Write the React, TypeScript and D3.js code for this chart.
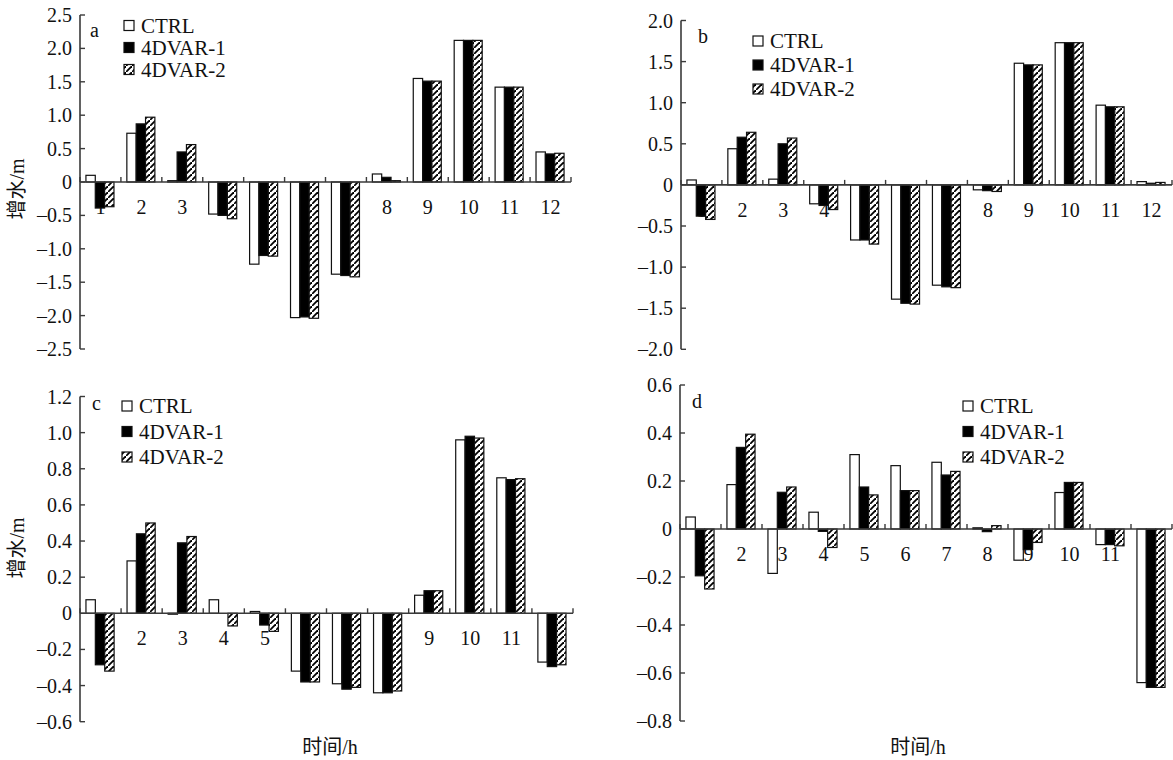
import React from "react";
import * as d3 from "d3";

const hours = ["1", "2", "3", "4", "5", "6", "7", "8", "9", "10", "11", "12"];
const seriesNames = ["CTRL", "4DVAR-1", "4DVAR-2"];

const aCTRL = [0.1, 0.73, 0.02, -0.48, -1.23, -2.03, -1.38, 0.12, 1.55, 2.12, 1.42, 0.45];
const aV1 = [-0.39, 0.87, 0.45, -0.5, -1.1, -2.02, -1.4, 0.07, 1.51, 2.12, 1.42, 0.42];
const aV2 = [-0.37, 0.97, 0.56, -0.55, -1.11, -2.04, -1.42, 0.02, 1.51, 2.12, 1.42, 0.43];

const bCTRL = [0.06, 0.44, 0.07, -0.23, -0.67, -1.39, -1.22, -0.06, 1.48, 1.73, 0.97, 0.04];
const bV1 = [-0.38, 0.58, 0.5, -0.25, -0.67, -1.44, -1.24, -0.07, 1.46, 1.73, 0.95, 0.02];
const bV2 = [-0.42, 0.64, 0.57, -0.3, -0.72, -1.45, -1.25, -0.08, 1.46, 1.73, 0.95, 0.03];

const cCTRL = [0.075, 0.29, -0.005, 0.075, 0.01, -0.32, -0.39, -0.44, 0.1, 0.96, 0.75, -0.27];
const cV1 = [-0.285, 0.44, 0.39, 0.0, -0.065, -0.38, -0.42, -0.44, 0.125, 0.98, 0.74, -0.295];
const cV2 = [-0.32, 0.5, 0.425, -0.07, -0.1, -0.38, -0.41, -0.43, 0.125, 0.97, 0.745, -0.285];

const dCTRL = [0.05, 0.185, -0.185, 0.07, 0.31, 0.264, 0.278, 0.005, -0.13, 0.152, -0.065, -0.64];
const dV1 = [-0.195, 0.34, 0.153, -0.01, 0.175, 0.16, 0.225, -0.011, -0.086, 0.194, -0.065, -0.66];
const dV2 = [-0.25, 0.395, 0.175, -0.077, 0.142, 0.16, 0.24, 0.014, -0.056, 0.194, -0.07, -0.66];

const aTicks = [-2.5, -2.0, -1.5, -1.0, -0.5, 0, 0.5, 1.0, 1.5, 2.0, 2.5];
const bTicks = [-2.0, -1.5, -1.0, -0.5, 0, 0.5, 1.0, 1.5, 2.0];
const cTicks = [-0.6, -0.4, -0.2, 0, 0.2, 0.4, 0.6, 0.8, 1.0, 1.2];
const dTicks = [-0.8, -0.6, -0.4, -0.2, 0, 0.2, 0.4, 0.6];

const yTitle = "增水/m";
const xTitle = "时间/h";

const FONT = "'Liberation Serif', 'Times New Roman', 'Noto Sans CJK SC', serif";
const FS = 20;
const LFS = 21;
const AXIS = "#3a3a3a";

type Panel = {
  id: string;
  letter: string;
  series: number[][];
  ticks: number[];
  x0: number;
  x1: number;
  yTop: number;
  yBot: number;
  letterPos: [number, number];
  legend: [number, number, number];
  yTitlePos?: [number, number];
  xTitlePos?: [number, number];
};

const panels: Panel[] = [
  {
    id: "a", letter: "a", series: [aCTRL, aV1, aV2], ticks: aTicks,
    x0: 80, x1: 571, yTop: 15, yBot: 349,
    letterPos: [90, 37], legend: [124, 25.5, 22],
    yTitlePos: [17, 189],
  },
  {
    id: "b", letter: "b", series: [bCTRL, bV1, bV2], ticks: bTicks,
    x0: 681, x1: 1172, yTop: 20.5, yBot: 349.3,
    letterPos: [698, 43], legend: [753, 41, 24],
  },
  {
    id: "c", letter: "c", series: [cCTRL, cV1, cV2], ticks: cTicks,
    x0: 80, x1: 573, yTop: 396.5, yBot: 721.7,
    letterPos: [92, 410], legend: [122, 406, 25.5],
    yTitlePos: [17, 548], xTitlePos: [330, 747],
  },
  {
    id: "d", letter: "d", series: [dCTRL, dV1, dV2], ticks: dTicks,
    x0: 680, x1: 1172, yTop: 385, yBot: 721,
    letterPos: [692, 408], legend: [963, 406, 25.5],
    xTitlePos: [918, 747],
  },
];

const fmt = (v: number) => {
  if (Math.abs(v) < 1e-9) return "0";
  const s = Math.abs(v).toFixed(1);
  return v < 0 ? "\u2013" + s : s;
};

const fills = ["#ffffff", "#000000", "url(#hatch)"];

function PanelView({ p }: { p: Panel }) {
  const ext = d3.extent(p.ticks) as [number, number];
  const y = d3.scaleLinear().domain(ext).range([p.yBot, p.yTop]);
  const x = d3.scaleBand<string>().domain(hours).range([p.x0, p.x1]).paddingInner(0).paddingOuter(0);
  const bw = x.bandwidth();
  const sub = d3.scaleBand<string>().domain(seriesNames).range([bw * 0.145, bw * 0.83]).padding(0);
  const y0 = y(0);
  const boundaries = hours.map((h) => x(h) as number).concat([p.x1]);

  return (
    <g>
      {hours.map((h) => (
        <text key={"xl" + h} x={(x(h) as number) + bw / 2} y={y0 + 32} textAnchor="middle"
          fontSize={FS} fontFamily={FONT} fill="#111">{h}</text>
      ))}
      {p.series.map((vals, si) =>
        vals.map((v, i) => {
          const bx = (x(hours[i]) as number) + (sub(seriesNames[si]) as number);
          const top = Math.min(y(v), y0);
          const h = Math.abs(y(v) - y0);
          return (
            <rect key={"b" + si + "-" + i} x={bx} y={top} width={sub.bandwidth()} height={h}
              fill={fills[si]} stroke="#111" strokeWidth={1.2} />
          );
        })
      )}
      <line x1={p.x0} x2={p.x0} y1={p.yTop} y2={p.yBot} stroke={AXIS} strokeWidth={1.6} />
      {p.ticks.map((t) => (
        <g key={"yt" + t}>
          <line x1={p.x0} x2={p.x0 + 5} y1={y(t)} y2={y(t)} stroke={AXIS} strokeWidth={1.4} />
          <text x={p.x0 - 8} y={y(t)} textAnchor="end" dominantBaseline="central"
            fontSize={FS} fontFamily={FONT} fill="#111">{fmt(t)}</text>
        </g>
      ))}
      <line x1={p.x0} x2={p.x1} y1={y0} y2={y0} stroke={AXIS} strokeWidth={1.6} />
      {boundaries.map((bx, i) => (
        <line key={"xt" + i} x1={bx} x2={bx} y1={y0} y2={y0 - 5} stroke={AXIS} strokeWidth={1.4} />
      ))}
      <text x={p.letterPos[0]} y={p.letterPos[1]} fontSize={FS} fontFamily={FONT} fill="#111">{p.letter}</text>
      {seriesNames.map((s, si) => {
        const ly = p.legend[1] + si * p.legend[2];
        return (
          <g key={"lg" + s}>
            <rect x={p.legend[0]} y={ly - 5} width={10} height={10} fill={fills[si]} stroke="#111" strokeWidth={1.2} />
            <text x={p.legend[0] + 17} y={ly} dominantBaseline="central" fontSize={LFS} fontFamily={FONT} fill="#111">{s}</text>
          </g>
        );
      })}
      {p.yTitlePos && (
        <text transform={`translate(${p.yTitlePos[0]},${p.yTitlePos[1]}) rotate(-90)`} textAnchor="middle"
          dominantBaseline="central" fontSize={FS} fontFamily={FONT} fill="#111">{yTitle}</text>
      )}
      {p.xTitlePos && (
        <text x={p.xTitlePos[0]} y={p.xTitlePos[1]} textAnchor="middle" dominantBaseline="central"
          fontSize={FS} fontFamily={FONT} fill="#111">{xTitle}</text>
      )}
    </g>
  );
}

export default function App() {
  return (
    <div style={{ position: "absolute", left: 0, top: 0 }}>
      <svg width={1173} height={760} style={{ display: "block", background: "#fff" }}>
        <defs>
          <pattern id="hatch" patternUnits="userSpaceOnUse" width={6} height={6}>
            <rect width={6} height={6} fill="#fff" />
            <path d="M-1.5,7.5 L7.5,-1.5" stroke="#000" strokeWidth={1.8} />
          </pattern>
        </defs>
        {panels.map((p) => (
          <PanelView key={p.id} p={p} />
        ))}
      </svg>
    </div>
  );
}
